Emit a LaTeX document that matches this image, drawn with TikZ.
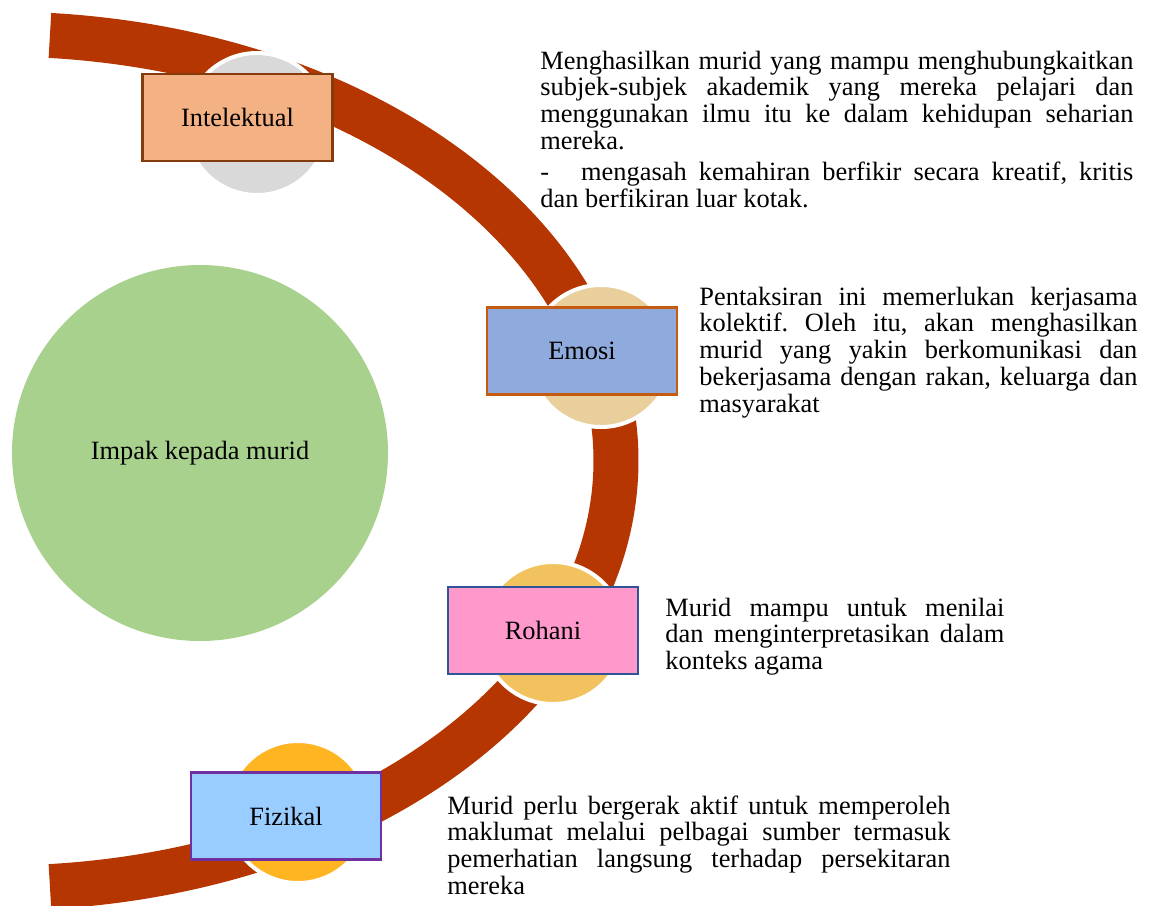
\documentclass[tikz,border=0pt]{standalone}
\usepackage{fontspec}
\setmainfont{Liberation Serif}
\definecolor{bandred}{RGB}{181,54,0}
\definecolor{impakgreen}{RGB}{169,209,142}
\definecolor{dotgrey}{RGB}{217,217,217}
\definecolor{dottan}{RGB}{232,207,156}
\definecolor{dotgold}{RGB}{242,194,94}
\definecolor{dotorange}{RGB}{255,180,34}
\tikzset{
  dot/.style={circle, draw=white, line width=2pt, minimum size=71pt, inner sep=0pt},
  labelbox/.style={rectangle, line width=1.4pt, minimum width=95pt, minimum height=43.5pt, inner sep=0pt},
  desc/.style={anchor=base west, inner sep=0pt, align=justify,
    execute at begin node={\frenchspacing\hyphenpenalty=10000\exhyphenpenalty=10000\tolerance=9999}},
}
\begin{document}
\begin{tikzpicture}[x=0.5pt, y=-0.5pt, font=\fontsize{13.2}{13.4}\selectfont]
    \useasboundingbox (0,0) rectangle (1149,905);

    % Centre of the curved band
    \coordinate (C) at (0,461);

    % Draw the curved band
    \draw[line width=22.5pt, bandred] (C) ++(-85.35:616 and 427)
        arc[start angle=-85.35, end angle=85.35, x radius=616, y radius=427];

    % Main circle
    \node[circle, fill=impakgreen, minimum size=188pt, inner sep=0pt] (impak) at (200,453) {Impak kepada murid};

    % Circles on the band
    \node[dot, fill=dotgrey] (dot1) at (257,124) {};
    \node[dot, fill=dottan] (dot2) at (601,356) {};
    \node[dot, fill=dotgold] (dot3) at (553,633) {};
    \node[dot, fill=dotorange] (dot4) at (298,812) {};

    % Label boxes
    \node[labelbox, draw={rgb,255:red,132;green,60;blue,12}, fill={rgb,255:red,244;green,177;blue,131}] (intelektual) at (237.5,117.5) {Intelektual};
    \node[labelbox, draw={rgb,255:red,197;green,90;blue,17}, fill={rgb,255:red,143;green,170;blue,220}] (emosi) at (582,351) {Emosi};
    \node[labelbox, draw={rgb,255:red,47;green,85;blue,151}, fill={rgb,255:red,255;green,153;blue,204}] (rohani) at (543,630.5) {Rohani};
    \node[labelbox, draw={rgb,255:red,112;green,48;blue,160}, fill={rgb,255:red,153;green,204;blue,255}] (fizikal) at (286,816) {Fizikal};

    % Descriptions
    \node[desc, text width=296.5pt] (intelektualtext) at (540,69) {Menghasilkan murid yang mampu menghubungkaitkan\linebreak
        subjek-subjek akademik yang mereka pelajari dan\linebreak
        menggunakan ilmu itu ke dalam kehidupan seharian\linebreak
        mereka.\\[2pt]
        -\hspace{16pt}mengasah kemahiran berfikir secara kreatif, kritis\linebreak
        dan berfikiran luar kotak.};
    \node[desc, text width=219pt] (emositext) at (699,305) {Pentaksiran ini memerlukan kerjasama\linebreak
        kolektif. Oleh itu, akan menghasilkan\linebreak
        murid yang yakin berkomunikasi dan\linebreak
        bekerjasama dengan rakan, keluarga dan\linebreak
        masyarakat};
    \node[desc, text width=169.5pt] (rohanitext) at (665,616) {Murid mampu untuk menilai\linebreak
        dan menginterpretasikan dalam\linebreak
        konteks agama};
    \node[desc, text width=251.5pt] (fizikaltext) at (447,814) {Murid perlu bergerak aktif untuk memperoleh\linebreak
        maklumat melalui pelbagai sumber termasuk\linebreak
        pemerhatian langsung terhadap persekitaran\linebreak
        mereka};

\end{tikzpicture}
\end{document}
